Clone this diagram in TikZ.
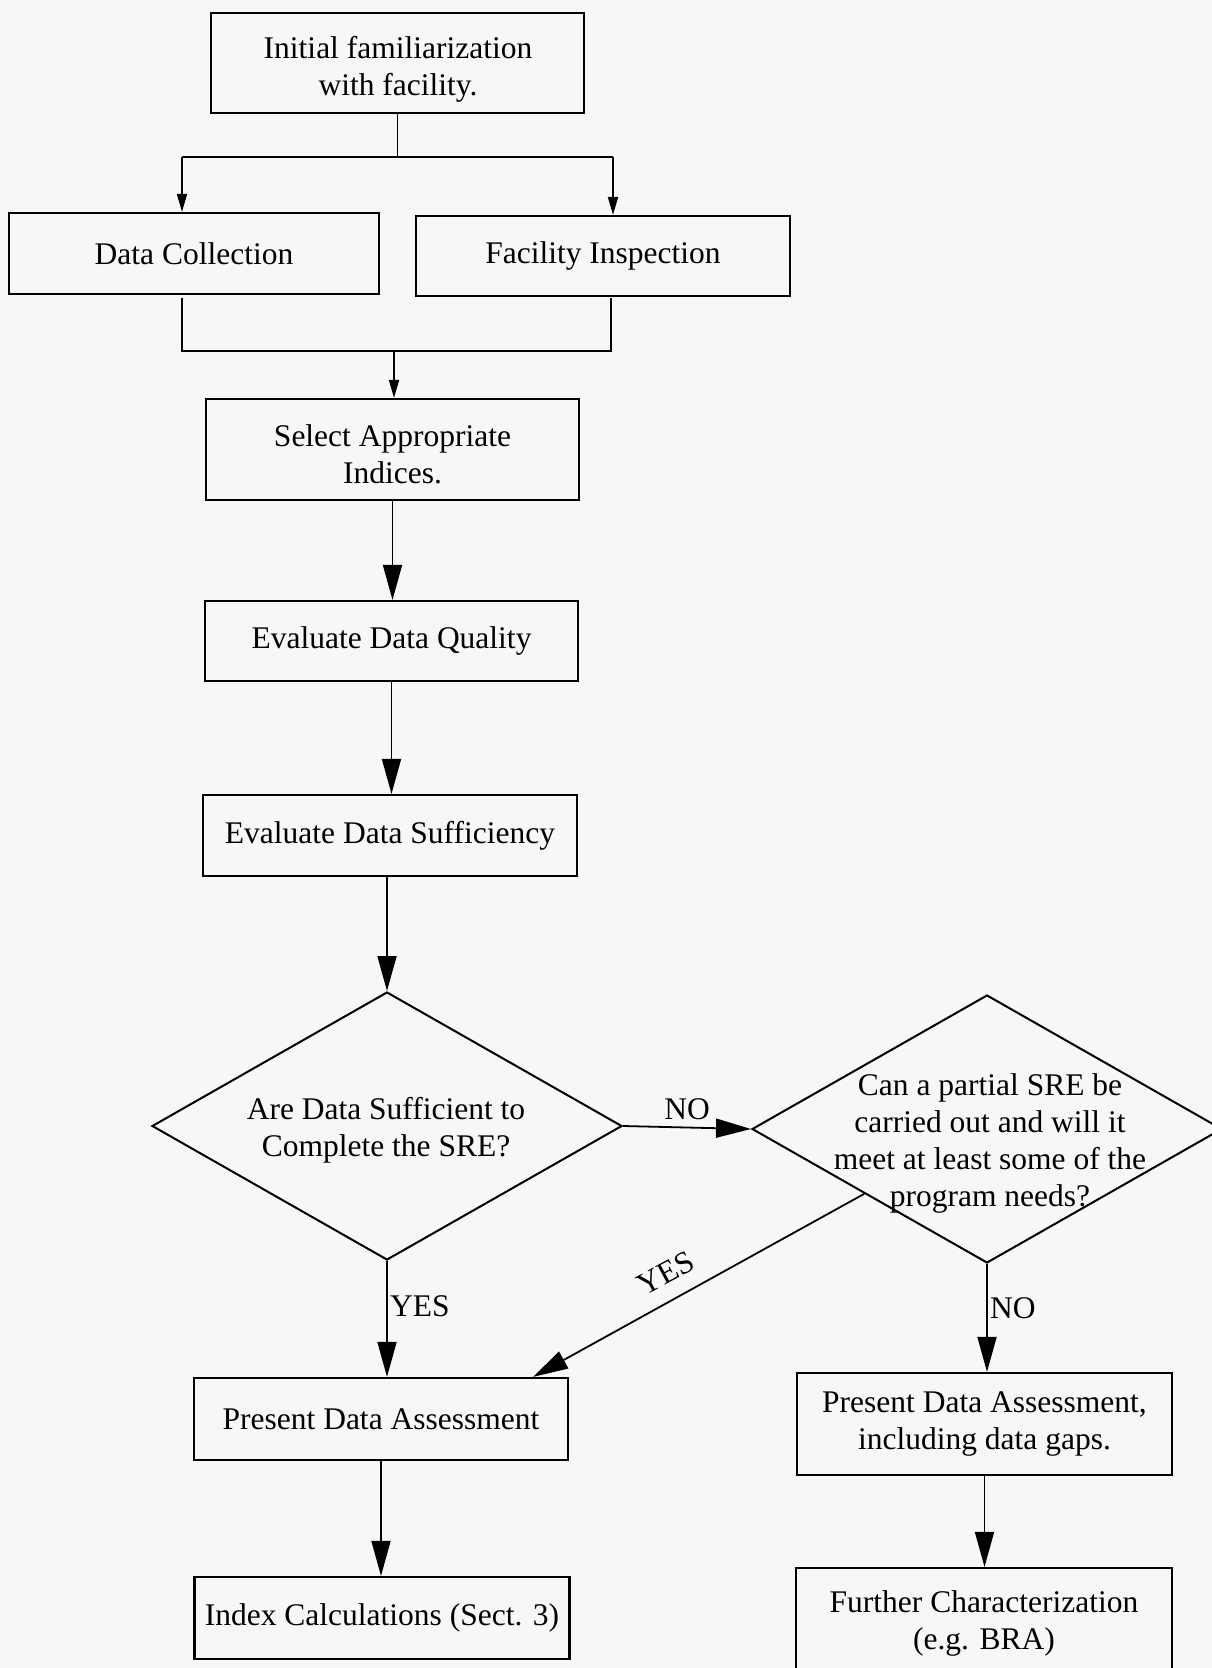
\documentclass[tikz,border=0pt]{standalone}
\usepackage{fontspec}
\setmainfont{Liberation Serif}
\usetikzlibrary{arrows.meta,shapes.geometric,calc}
\definecolor{paper}{HTML}{F7F7F7}
\begin{document}
\begin{tikzpicture}[x=1pt,y=-1pt,
  font=\fontsize{31.5}{37}\selectfont,
  stepbox/.style={draw,line width=2.2pt,rectangle,inner sep=0pt,align=center},
  decision/.style={draw,line width=2pt,diamond,inner sep=0pt},
  txt/.style={inner sep=0pt,align=center},
  link/.style={line width=1.8pt},
  bigarrow/.style={link,-{Triangle[length=35pt,width=19pt]}},
  smallarrow/.style={link,-{Triangle[length=18pt,width=10pt]}}]
\useasboundingbox (0,0) rectangle (1212,1668);
\fill[paper] (0,0) rectangle (1212,1668);
\clip (0,0) rectangle (1212,1668);

% process boxes
\node[stepbox,minimum width=373pt,minimum height=100pt] (init) at (397.5,63) {};
\node[txt] (inittxt) at (398,69) {Initial familiarization\\with facility.};
\node[stepbox,minimum width=370pt,minimum height=81pt] (coll) at (194,253.5) {Data Collection};
\node[stepbox,minimum width=374pt,minimum height=80pt] (insp) at (603,256) {Facility Inspection};
\node[stepbox,minimum width=373pt,minimum height=101pt] (sel) at (392.5,449.5) {};
\node[txt] (seltxt) at (392.5,454) {Select Appropriate\\Indices.};
\node[stepbox,minimum width=373pt,minimum height=80pt] (qual) at (391.5,641) {Evaluate Data Quality};
\node[stepbox,minimum width=374pt,minimum height=81pt] (suff) at (390,835.5) {Evaluate Data Sufficiency};

% decisions
\node[decision,minimum width=470pt,minimum height=268pt] (d1) at (387,1126) {};
\node[txt] (d1txt) at (386,1130) {Are Data Sufficient to\\Complete the SRE?};
\node[decision,minimum width=470pt,minimum height=268pt] (d2) at (987,1129) {};
\node[txt] (d2txt) at (990,1143) {Can a partial SRE be\\carried out and will it\\meet at least some of the\\program needs?};

% outcome boxes
\node[stepbox,minimum width=374pt,minimum height=82pt] (pres) at (381,1419) {Present Data Assessment};
\node[stepbox,minimum width=375pt,minimum height=102pt] (pres2) at (984.5,1424) {Present Data Assessment,\\including data gaps.};
\node[stepbox,minimum width=375pt,minimum height=82pt] (idx) at (382,1618) {Index Calculations (Sect. 3)};
\node[stepbox,minimum width=376pt,minimum height=122pt] (furth) at (984,1629) {};
\node[txt] (furthtxt) at (984,1623) {Further Characterization\\(e.g. BRA)};

% fan-out after the first step
\coordinate (b1) at (397.5,157);
\coordinate (b1l) at (182,157);
\coordinate (b1r) at (613,157);
\draw[link] (init.south) -- (b1);
\draw[link] (b1l) -- (b1r);
\draw[smallarrow] (b1l) -- (b1l |- coll.north);
\draw[smallarrow] (b1r) -- (b1r |- insp.north);

% merge before index selection
\coordinate (m1l) at (182,351);
\coordinate (m1r) at (611,351);
\coordinate (m1) at (394,351);
\draw[link] (182,298) -- (m1l) -- (m1r) -- (611,298);
\draw[smallarrow] (m1) -- (m1 |- sel.north);

% main chain
\draw[bigarrow] (sel.south) -- (sel.south |- qual.north);
\draw[bigarrow] (qual.south) -- (qual.south |- suff.north);
\draw[bigarrow] (d1.north |- suff.south) -- (d1.north);

% decision branches
\draw[bigarrow] (d1.east) -- node[txt,above=7pt] (no1) {NO} (d2.west);
\draw[bigarrow] (d1.south) -- (d1.south |- pres.north);
\node[txt,anchor=west] (yes1) at (390,1306) {YES};

\coordinate (ystart) at ($(d2.west)!0.48!(d2.south)$);
\coordinate (yend) at ($(pres.north east)+(-36,0)$);
\draw[bigarrow] (ystart) -- (yend);
\node[txt,rotate=28.4] (yes2) at (666,1273) {YES};

\draw[bigarrow] (d2.south) -- (d2.south |- pres2.north);
\node[txt,anchor=west] (no2) at (990,1308) {NO};

\draw[bigarrow] (pres.south) -- (pres.south |- idx.north);
\draw[bigarrow] (pres2.south) -- (pres2.south |- furth.north);
\end{tikzpicture}
\end{document}
